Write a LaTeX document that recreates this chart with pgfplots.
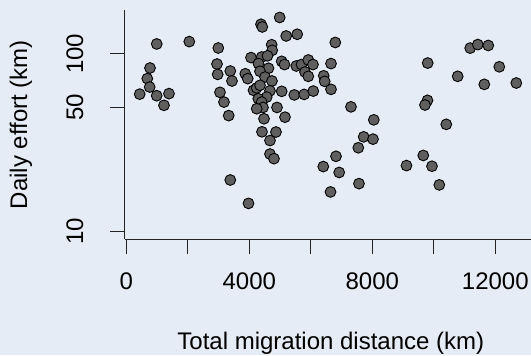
\documentclass[border=0pt]{standalone}
\usepackage{pgfplots}
\pgfplotsset{compat=1.18}
\usepackage{fontspec}
\setmainfont{Liberation Sans}
\definecolor{bg}{RGB}{230,236,245}
\definecolor{pt}{RGB}{95,95,95}
\definecolor{ax}{RGB}{35,35,35}
\begin{document}
\begin{tikzpicture}
\useasboundingbox (-125pt,-116pt) rectangle (406pt,239.5pt);
\fill[bg] (-125pt,-116pt) rectangle (406pt,239.5pt);
\begin{axis}[
 scale only axis, width=406pt, height=229.5pt,
 xmin=-42, xmax=13161, ymode=log, ymin=9.02, ymax=176.4,
 axis x line*=bottom, axis y line*=left,
 axis line style={-, line width=1pt, ax},
 tick align=outside, major tick length=15pt,
 tick style={line width=1pt, ax},
 scaled x ticks=false,
 xtick={0,2000,4000,6000,8000,10000,12000}, xticklabels={0,,4000,,8000,,12000},
 ytick={10,50,100}, yticklabels={10,50,100},
 xminorticks=false, yminorticks=false,
 tick label style={font=\fontsize{24}{24}\selectfont},
 xticklabel shift=15pt,
 yticklabel style={rotate=90, anchor=south},
 yticklabel shift=23pt,
 label style={font=\fontsize{24}{28}\selectfont},
 xlabel={Total migration distance (km)},
 ylabel={Daily effort (km)},
 xlabel style={at={(axis description cs:0.507,-0.4531)}, anchor=center},
 ylabel style={at={(axis description cs:-0.2562,0.5)}, anchor=center},
 clip=false,
]
\addplot[only marks, mark=*, mark size=5.4pt, mark options={fill=pt, draw=black, line width=0.9pt}] table {
x y
990 113.6
2049 117.1
771 83.2
683 72.5
761 65.0
436 59.3
989 58.1
1389 59.7
1226 51.3
2992 107.8
2950 87.6
2972 76.6
3382 80.0
3437 70.3
3047 60.7
3177 53.5
3330 44.9
3382 19.5
3974 14.4
3870 77.2
3948 72.5
4055 95.2
4137 62.3
4380 146.6
4423 141.6
4989 160.1
5200 126.0
5558 128.8
4728 112.4
4745 104.6
4403 95.9
4592 97.4
4299 88.1
4624 82.9
4348 79.7
4511 74.0
4738 70.3
4241 64.3
4348 66.5
4673 61.9
5054 61.5
5463 58.7
5785 59.1
6081 61.7
6657 63.1
4566 57.1
4293 55.9
4403 53.5
4446 49.9
4241 49.1
4901 49.9
4478 43.1
5161 44.0
4413 36.4
4868 36.3
4673 32.5
4673 27.3
4803 25.7
5054 90.7
5145 87.0
5528 85.4
5698 87.0
5919 92.3
6071 87.0
5811 79.0
5919 74.7
6420 75.2
6452 70.0
6657 88.1
6797 115.8
7307 50.3
8049 42.5
7720 34.1
8023 33.1
7545 29.6
6820 26.5
6406 23.2
6923 21.5
6641 16.7
7567 18.6
9802 88.7
9795 54.7
9714 51.5
10406 40.1
10777 74.7
11184 107.7
11431 112.7
11772 111.4
12130 84.5
11642 67.3
12683 68.5
9112 23.5
9658 26.8
9941 23.3
10179 18.3
};
\end{axis}
\end{tikzpicture}
\end{document}
